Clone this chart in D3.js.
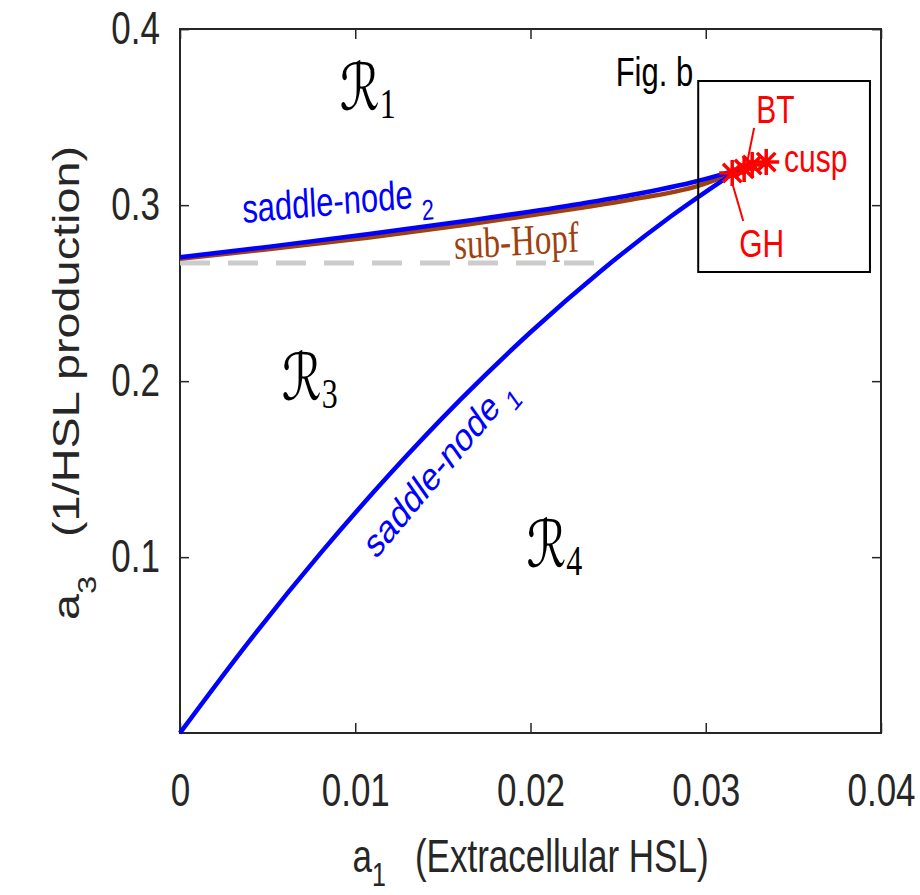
<!DOCTYPE html>
<meta charset="utf-8">
<style>
body { margin: 0; background: #fff; }
svg { display: block; }
.axis text { font-family: "Liberation Sans", Arial, sans-serif; font-size: 35px; fill: #262626; }
.axis line { stroke: #262626; stroke-width: 1.5px; vector-effect: non-scaling-stroke; }
.axis path { display: none; }
.curve { fill: none; vector-effect: non-scaling-stroke; }
.lab { font-family: "Liberation Sans", Arial, sans-serif; }
</style>
<body>
<div id="chart"></div>
<script src="https://cdn.jsdelivr.net/npm/d3@7"></script>
<script>
// ticks
var xTicks = [0, 0.01, 0.02, 0.03, 0.04];
var xTickLabels = ["0", "0.01", "0.02", "0.03", "0.04"];
var yTicks = [0.1, 0.2, 0.3, 0.4];
var yTickLabels = ["0.1", "0.2", "0.3", "0.4"];

// saddle-node 1 (lower branch from origin)
var sn1A1 = [0, 0.004, 0.008, 0.012, 0.016, 0.020, 0.024, 0.028, 0.0319];
var sn1A3 = [0, 0.0528, 0.1019, 0.1474, 0.1894, 0.2277, 0.2624, 0.2935, 0.3203];

// saddle-node 2 (upper branch)
var sn2A1 = [0, 0.005, 0.0108, 0.0165, 0.0228, 0.0256, 0.0296, 0.0318];
var sn2A3 = [0.2703, 0.2762, 0.2835, 0.2912, 0.3006, 0.3054, 0.3138, 0.3200];

// sub-Hopf, just under saddle-node 2, ends at GH
var hopfA1 = [0, 0.005, 0.0108, 0.0165, 0.0228, 0.0256, 0.0296, 0.0315];
var hopfA3 = [0.2695, 0.2748, 0.2815, 0.2890, 0.2983, 0.3028, 0.3110, 0.3180];

// grey dashed reference line
var dashA1 = [0, 0.0237];
var dashA3 = [0.267, 0.267];

// codim-2 points (asterisks)
var starA1 = [0.03151, 0.03219, 0.03265, 0.03345];
var starA3 = [0.3182, 0.3205, 0.3227, 0.3244];

// point labels
var ptNames = ["GH", "BT", "cusp"];
var ptA1 = [0.03191, 0.03288, 0.03447];
var ptA3 = [0.2705, 0.3466, 0.3188];
var btLeader = [[0.03276, 0.3438], [0.03231, 0.3216]];
var ghLeader = [[0.03214, 0.2909], [0.03151, 0.3125]];

// regions
var regSubs = ["1", "3", "4"];
var regA1 = [0.00912, 0.00581, 0.01977];
var regA3 = [0.354, 0.1892, 0.0943];

// Fig. b box
var boxA1 = [0.02957, 0.03937];
var boxA3 = [0.2619, 0.3705];
var figLabA1 = 0.02486, figLabA3 = 0.3676;

var W = 920, H = 895, S = 1.3; // picture is stretched vertically
var svg = d3.select("#chart").append("svg")
    .attr("width", W).attr("height", H)
    .attr("viewBox", "0 0 " + W + " " + (H / S))
    .attr("preserveAspectRatio", "none");

var x = d3.scaleLinear().domain([0, 0.04]).range([180, 881]);
var y = d3.scaleLinear().domain([0, 0.4]).range([733 / S, 29 / S]);

function ang(deg) { return Math.atan(Math.tan(deg * Math.PI / 180) / S) * 180 / Math.PI; }
function zip(a, b) { return a.map(function(v, i) { return [v, b[i]]; }); }

var line = d3.line().x(function(d) { return x(d[0]); }).y(function(d) { return y(d[1]); })
    .curve(d3.curveMonotoneX);

// axes
svg.append("g").attr("class", "axis")
    .attr("transform", "translate(0," + y(0) + ")")
    .call(d3.axisBottom(x).tickValues(xTicks).tickSize(-10 / S).tickPadding(31)
        .tickFormat(function(d, i) { return xTickLabels[i]; }));
svg.append("g").attr("class", "axis")
    .attr("transform", "translate(0," + y(0.4) + ")")
    .call(d3.axisTop(x).tickValues(xTicks).tickSize(-10 / S).tickFormat(""));
svg.append("g").attr("class", "axis")
    .attr("transform", "translate(" + x(0) + ",0)")
    .call(d3.axisLeft(y).tickValues(yTicks).tickSize(-9).tickPadding(20)
        .tickFormat(function(d, i) { return yTickLabels[i]; }));
svg.append("g").attr("class", "axis")
    .attr("transform", "translate(" + x(0.04) + ",0)")
    .call(d3.axisRight(y).tickValues(yTicks).tickSize(-9).tickFormat(""));

svg.append("rect")
    .attr("x", x(0)).attr("y", y(0.4))
    .attr("width", x(0.04) - x(0)).attr("height", y(0) - y(0.4))
    .attr("fill", "none").attr("stroke", "#262626").attr("stroke-width", 2)
    .style("vector-effect", "non-scaling-stroke");

// axis labels
var xl = svg.append("text").attr("class", "lab")
    .attr("x", (x(0) + x(0.04)) / 2).attr("y", 872 / S)
    .attr("text-anchor", "middle").attr("font-size", 35).attr("fill", "#262626");
xl.append("tspan").text("a");
xl.append("tspan").attr("font-size", 25).attr("dy", 11).text("1");
xl.append("tspan").attr("dy", -11).text("\u00a0\u00a0\u00a0(Extracellular HSL)");

var yl = svg.append("text").attr("class", "lab")
    .attr("transform", "translate(79," + (383 / S) + ") rotate(-90)")
    .attr("text-anchor", "middle").attr("font-size", 36).attr("fill", "#262626");
yl.append("tspan").text("a");
yl.append("tspan").attr("font-size", 25).attr("dy", 17).text("3");
yl.append("tspan").attr("dy", -17).text("\u00a0\u00a0\u00a0(1/HSL production)");

// curves
svg.append("path").attr("class", "curve").attr("d", line(zip(dashA1, dashA3)))
    .attr("stroke", "#cccccc").attr("stroke-width", 5).attr("stroke-dasharray", "30,18");
svg.append("path").attr("class", "curve").attr("d", line(zip(hopfA1, hopfA3)))
    .attr("stroke", "#a0400c").attr("stroke-width", 4.5);
svg.append("path").attr("class", "curve").attr("d", line(zip(sn2A1, sn2A3)))
    .attr("stroke", "#0000ff").attr("stroke-width", 4.5);
svg.append("path").attr("class", "curve").attr("d", line(zip(sn1A1, sn1A3)))
    .attr("stroke", "#0000ff").attr("stroke-width", 4.5);

// curve labels
function curveLabel(a1, a3, deg, main, sub, color, font, size) {
  var t = svg.append("text")
      .attr("transform", "translate(" + x(a1) + "," + y(a3) + ") rotate(" + ang(deg) + ")")
      .attr("font-family", font).attr("font-size", size).attr("fill", color);
  t.append("tspan").text(main);
  if (sub) t.append("tspan").attr("font-size", 22).attr("dy", 10).text(sub);
}
curveLabel(0.00359, 0.2898, -5, "saddle-node\u00a0", "2", "#0000ff", "Liberation Sans, Arial, sans-serif", 31);
curveLabel(0.01117, 0.0983, -50, "saddle-node\u00a0", "1", "#0000ff", "Liberation Sans, Arial, sans-serif", 31);
curveLabel(0.01567, 0.2693, -3.5, "sub-Hopf", null, "#a0400c", "Liberation Serif, Times New Roman, serif", 33);

// Fig. b box
svg.append("rect")
    .attr("x", x(boxA1[0])).attr("y", y(boxA3[1]))
    .attr("width", x(boxA1[1]) - x(boxA1[0])).attr("height", y(boxA3[0]) - y(boxA3[1]))
    .attr("fill", "none").attr("stroke", "#000").attr("stroke-width", 2)
    .style("vector-effect", "non-scaling-stroke");
svg.append("text").attr("class", "lab")
    .attr("x", x(figLabA1)).attr("y", y(figLabA3))
    .attr("font-size", 31).attr("fill", "#000").text("Fig. b");

// leaders
[btLeader, ghLeader].forEach(function(l) {
  svg.append("path").attr("class", "curve").attr("d", d3.line()
      .x(function(d) { return x(d[0]); }).y(function(d) { return y(d[1]); })(l))
      .attr("stroke", "#ff0000").attr("stroke-width", 2);
});

// asterisks
var r = 13, dd = r * Math.SQRT1_2;
var star = "M" + (-r) + ",0L" + r + ",0M0," + (-r / S) + "L0," + (r / S) +
    "M" + (-dd) + "," + (-dd / S) + "L" + dd + "," + (dd / S) +
    "M" + (-dd) + "," + (dd / S) + "L" + dd + "," + (-dd / S);
svg.selectAll(".star").data(zip(starA1, starA3)).enter().append("path")
    .attr("class", "curve star")
    .attr("transform", function(d) { return "translate(" + x(d[0]) + "," + y(d[1]) + ")"; })
    .attr("d", star).attr("stroke", "#ff0000").attr("stroke-width", 3.5);

svg.selectAll(".ptlab").data(ptNames).enter().append("text").attr("class", "lab ptlab")
    .attr("x", function(d, i) { return x(ptA1[i]); })
    .attr("y", function(d, i) { return y(ptA3[i]); })
    .attr("font-size", 30).attr("fill", "#ff0000").text(function(d) { return d; });

// region labels
regSubs.forEach(function(s, i) {
  var t = svg.append("text").attr("x", x(regA1[i])).attr("y", y(regA3[i])).attr("fill", "#000");
  t.append("tspan").attr("font-family", "DejaVu Serif, DejaVu Sans, serif")
      .attr("font-style", "italic").attr("font-size", 50).text("\u211B");
  t.append("tspan").attr("font-family", "Liberation Serif, serif")
      .attr("font-size", 32).attr("dy", 6).text(s);
});
</script>
</body>
